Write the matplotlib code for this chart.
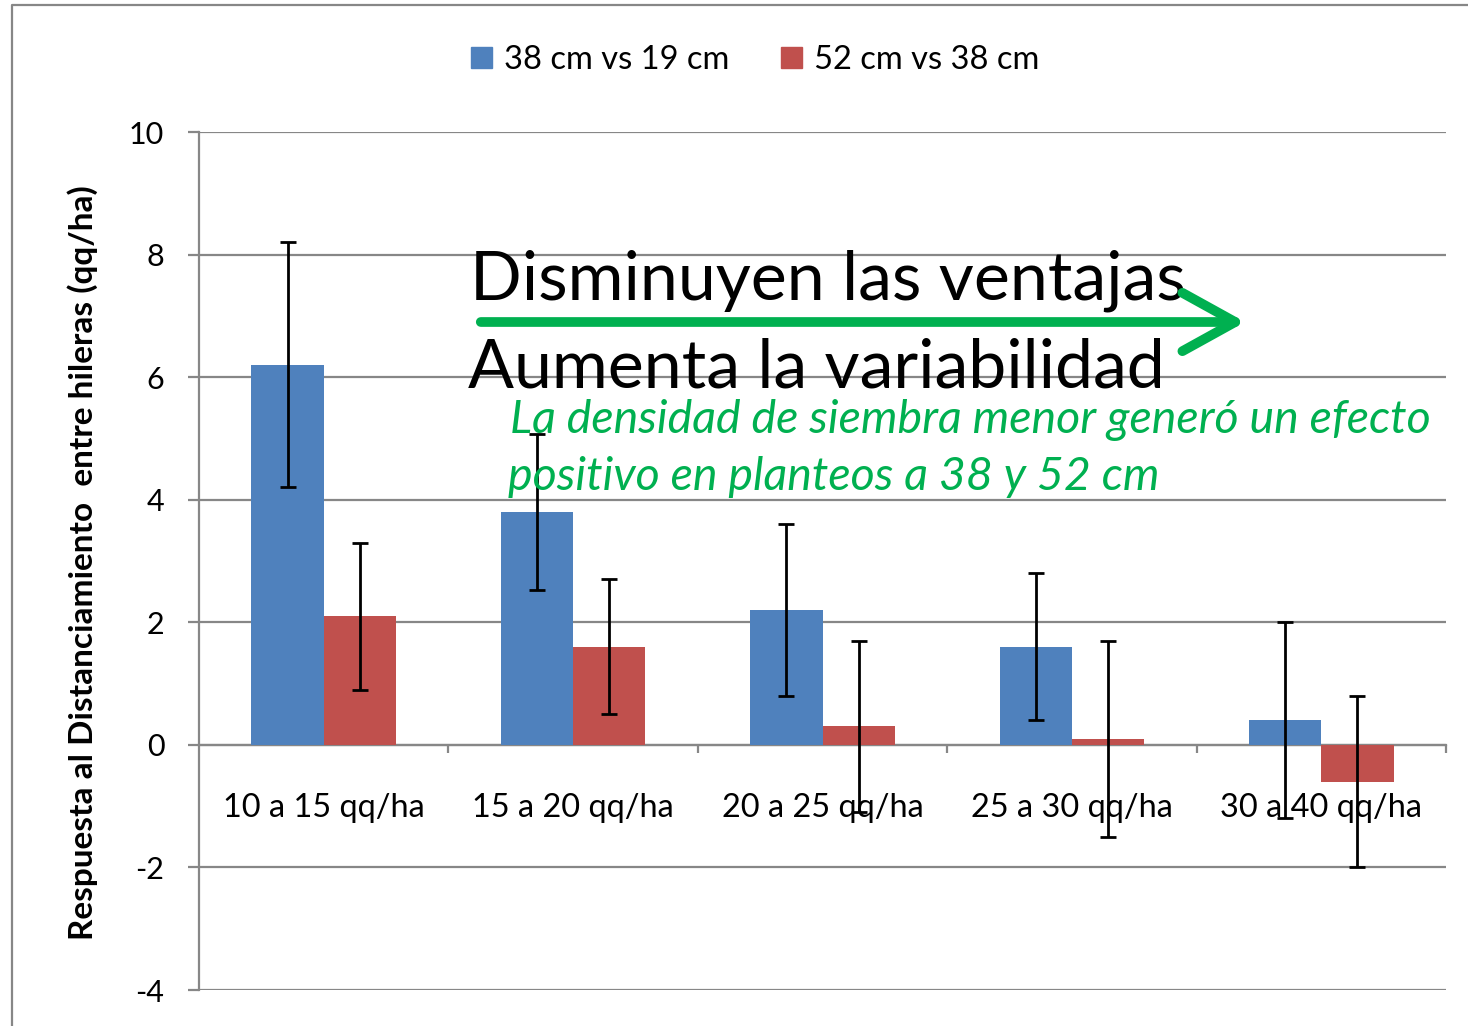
import numpy as np
import matplotlib.pyplot as plt
from matplotlib.lines import Line2D
from matplotlib.patches import Patch, FancyArrowPatch

plt.rcParams['font.family'] = ['Lato', 'DejaVu Sans']
plt.rcParams['axes.unicode_minus'] = False

# datos
categorias = ['10 a 15 qq/ha', '15 a 20 qq/ha', '20 a 25 qq/ha', '25 a 30 qq/ha', '30 a 40 qq/ha']
serie_38_19 = [6.2, 3.8, 2.2, 1.6, 0.4]
err_38_19 = [2.0, 1.28, 1.4, 1.2, 1.6]
serie_52_38 = [2.1, 1.6, 0.3, 0.1, -0.6]
err_52_38 = [1.2, 1.1, 1.4, 1.6, 1.4]
yticks = [-4, -2, 0, 2, 4, 6, 8, 10]

azul = '#4F81BD'
rojo = '#C0504D'
gris = '#878787'
verde = '#00B050'

W, H = 1468, 1026
fig = plt.figure(figsize=(W / 100, H / 100), dpi=100)
ax = fig.add_axes([199 / W, 1 - 990 / H, (1446 - 199) / W, (990 - 132) / H])

x = np.arange(len(categorias))
ancho = 0.29
ax.bar(x - ancho / 2, serie_38_19, ancho, color=azul, zorder=3)
ax.bar(x + ancho / 2, serie_52_38, ancho, color=rojo, zorder=3)
ax.errorbar(x - ancho / 2, serie_38_19, yerr=err_38_19, fmt='none', ecolor='black',
            elinewidth=2, capsize=6, capthick=2, zorder=5)
ax.errorbar(x + ancho / 2, serie_52_38, yerr=err_52_38, fmt='none', ecolor='black',
            elinewidth=2, capsize=6, capthick=2, zorder=5)

ax.set_xlim(-0.5, len(categorias) - 0.5)
ax.set_ylim(-4, 10)
ax.set_yticks(yticks)
ax.yaxis.grid(True, color=gris, lw=1.6, zorder=0)
ax.tick_params(axis='y', length=8, width=1.6, color=gris, pad=17, labelsize=22)

# eje x en y=0
for s in ['top', 'right']:
    ax.spines[s].set_visible(False)
ax.spines['left'].set_color(gris)
ax.spines['left'].set_linewidth(1.6)
ax.spines['bottom'].set_position(('data', 0))
ax.spines['bottom'].set_color(gris)
ax.spines['bottom'].set_linewidth(1.6)
ax.set_xticks(np.arange(len(categorias)) + 0.5)
ax.set_xticklabels([])
ax.set_xticks(x, minor=True)
ax.set_xticklabels(categorias, minor=True)
ax.tick_params(axis='x', which='major', length=6, width=1.6, color=gris)
ax.tick_params(axis='x', which='minor', length=0, pad=35, labelsize=23.4)

fig.text(83 / W, 1 - 563 / H, 'Respuesta al Distanciamiento  entre hileras (qq/ha)',
         rotation=90, ha='center', va='center', fontsize=24, fontweight='bold')

# leyenda
handles = [Patch(color=azul), Patch(color=rojo)]
fig.legend(handles, ['38 cm vs 19 cm', '52 cm vs 38 cm'], loc='center',
           bbox_to_anchor=(755 / W, 1 - 60 / H), ncol=2, frameon=False, fontsize=23.5,
           handlelength=0.65, handleheight=0.65, handletextpad=0.35, columnspacing=1.6)

# anotaciones
fig.text(470 / W, 1 - 300 / H, 'Disminuyen las ventajas', fontsize=49, va='baseline')
fig.text(468 / W, 1 - 388 / H, 'Aumenta la variabilidad', fontsize=49, va='baseline')
fig.text(510 / W, 1 - 433 / H, 'La densidad de siembra menor generó un efecto',
         fontsize=33.5, style='italic', color=verde, va='baseline')
fig.text(508 / W, 1 - 490 / H, 'positivo en planteos a 38 y 52 cm',
         fontsize=33.5, style='italic', color=verde, va='baseline')
fig.add_artist(FancyArrowPatch(
    (478 / W, 1 - 322 / H), (1248 / W, 1 - 322 / H), transform=fig.transFigure,
    arrowstyle='->,head_length=3.8,head_width=2.1', mutation_scale=10,
    color=verde, lw=7, capstyle='round', joinstyle='round', zorder=6))

# borde del gráfico
fig.add_artist(Line2D([12 / W, 12 / W, 1], [0, 1 - 5 / H, 1 - 5 / H],
                      transform=fig.transFigure, color=gris, lw=1.6))

fig.savefig('out.png', dpi=100)
